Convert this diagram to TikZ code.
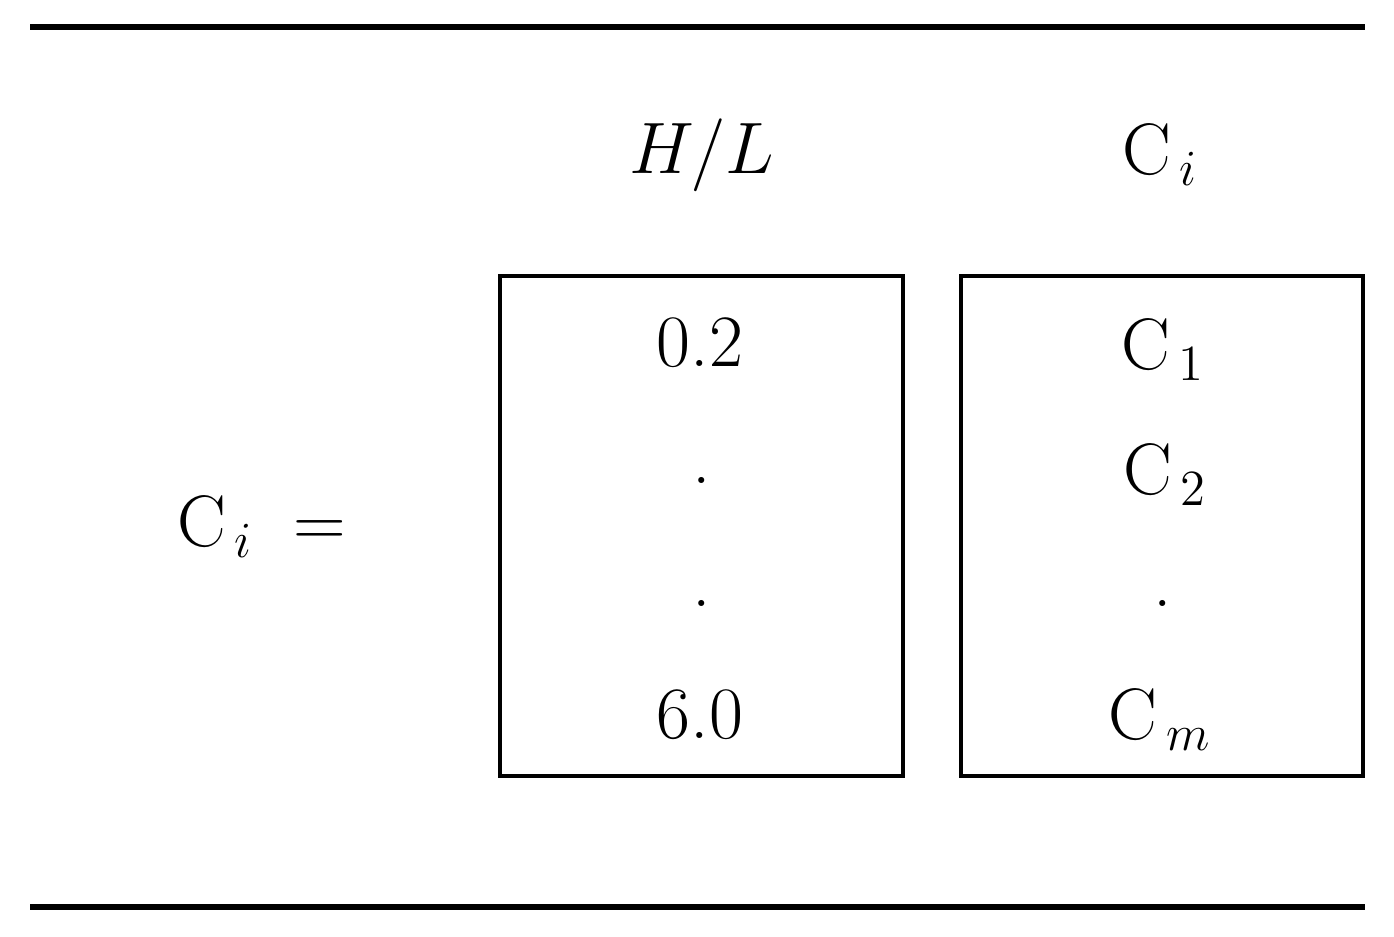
\documentclass[tikz,border=0pt]{standalone}
\begin{document}
\begin{tikzpicture}[x=0.01cm,y=-0.01cm,
  txt/.style={inner sep=0pt,font=\fontsize{21}{25}\selectfont},
  box/.style={line width=1.4pt},
  rule/.style={line width=1.7pt}]
\useasboundingbox (0,0) rectangle (1394,936);
\coordinate (t1) at (30,27); \coordinate (t2) at (1365,27);
\coordinate (b1) at (30,907); \coordinate (b2) at (1365,907);
\draw[rule] (t1) -- (t2);
\draw[rule] (b1) -- (b2);
\node[box,draw,minimum width=403*0.01cm,minimum height=500*0.01cm,inner sep=0pt] (B1) at (701.5,526) {};
\node[box,draw,minimum width=402*0.01cm,minimum height=500*0.01cm,inner sep=0pt] (B2) at (1162,526) {};
\node[txt] (hl) at (702,155) {$H/L$};
\node[txt] (ci) at (1160,155) {$\mathrm{C}_{\,i}$};
\node[txt] (a1) at (700,343) {0.2};
\node[txt] (a2) at (702,480) {.};
\node[txt] (a3) at (702,603) {.};
\node[txt] (a4) at (700,715) {6.0};
\node[txt] (c1) at (1163,350) {$\mathrm{C}_{\,1}$};
\node[txt] (c2) at (1165,475) {$\mathrm{C}_{\,2}$};
\node[txt] (c3) at (1163,603) {.};
\node[txt] (cm) at (1160,720) {$\mathrm{C}_{\,m}$};
\node[txt] (lhs) at (262,527) {$\mathrm{C}_{\,i}\;=$};
\end{tikzpicture}
\end{document}
